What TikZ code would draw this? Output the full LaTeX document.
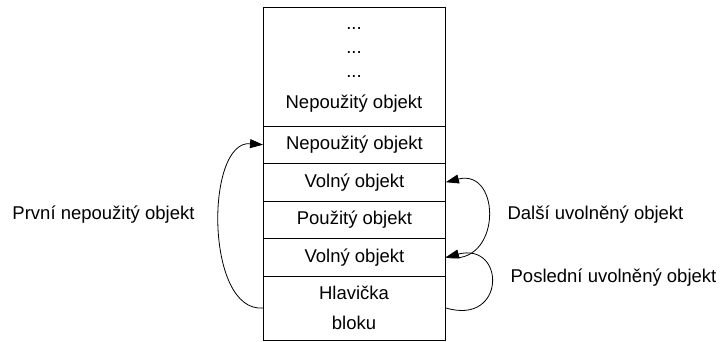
\documentclass[tikz,border=0pt]{standalone}
\usepackage{fontspec}
\setmainfont{Liberation Sans}
\usetikzlibrary{arrows.meta}
\begin{document}
\begin{tikzpicture}[x=1pt,y=-1pt,
  cell/.style={draw=black,line width=0.9pt,minimum width=182pt,inner sep=0pt,anchor=north west,font=\fontsize{18.5pt}{22pt}\selectfont},
  lbl/.style={font=\fontsize{18.5pt}{22pt}\selectfont,inner sep=0pt},
  link/.style={line width=0.8pt,-{Triangle[length=13pt,width=9pt]}}]
\useasboundingbox (0,0) rectangle (720,341);
% block of memory: unused area on top
\node[cell,minimum height=118.5pt] (top) at (263,7) {};
\node[lbl] at (354,29) {...};
\node[lbl] at (354,53) {...};
\node[lbl] at (354,77) {...};
\node[lbl] at (354,104) {Nepoužitý objekt};
% object slots
\node[cell,minimum height=37.5pt] (nep) at (263,125.5) {Nepoužitý objekt};
\node[cell,minimum height=37.5pt] (vol1) at (263,163) {Volný objekt};
\node[cell,minimum height=37.5pt] (pou) at (263,200.5) {Použitý objekt};
\node[cell,minimum height=37.5pt] (vol2) at (263,238) {Volný objekt};
\node[cell,minimum height=64pt] (hl) at (263,275.5) {};
\node[lbl] at (354,293) {Hlavička};
\node[lbl] at (354,323) {bloku};
% pointers
\draw[link] (hl.west) .. controls (205,313) and (205,140) .. (nep.west);
\draw[link] (vol2.east) .. controls (502,268) and (502,168) .. (vol1.east);
\draw[link] (hl.east) .. controls (506,326) and (506,242) .. (vol2.east);
% captions
\node[lbl] (c1) at (103.5,215) {První nepoužitý objekt};
\node[lbl] (c2) at (595.5,215) {Další uvolněný objekt};
\node[lbl] (c3) at (613.5,278) {Poslední uvolněný objekt};
\end{tikzpicture}
\end{document}
